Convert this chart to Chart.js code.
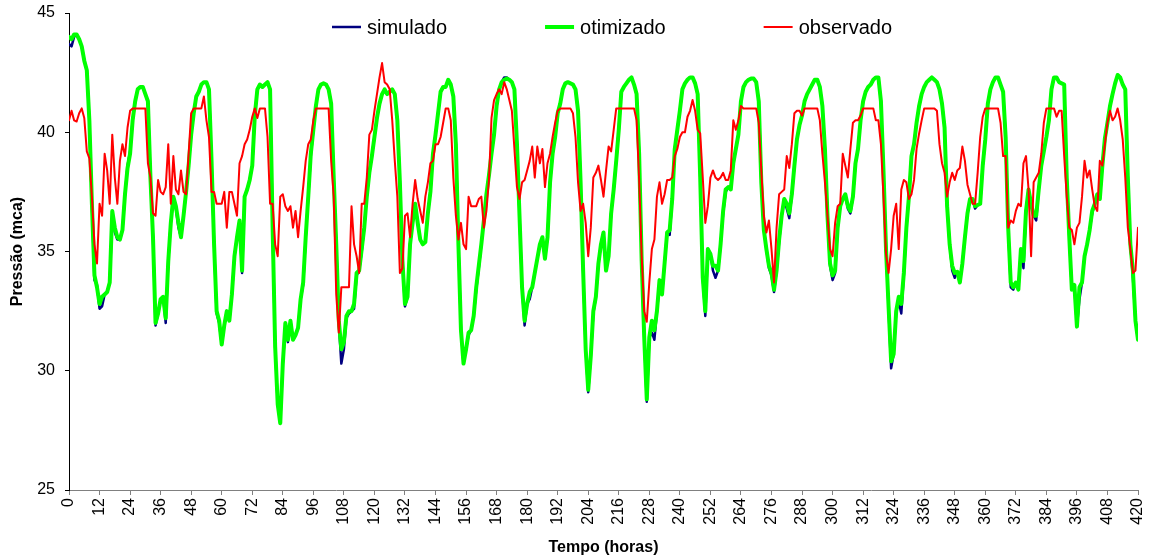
<!DOCTYPE html>
<html>
<head>
<meta charset="utf-8">
<script src="https://cdn.jsdelivr.net/npm/chart.js@4.4.1/dist/chart.umd.min.js"></script>
<style>
  html, body { margin: 0; padding: 0; background: #fff; }
  #wrap { width: 1151px; height: 560px; }
</style>
</head>
<body>
<div id="wrap"><canvas id="pressureChart" width="1151" height="560"></canvas></div>
<script>
// Pressão ao longo do tempo (valores horários, 0..420 h)
const seriesNames = ['simulado', 'otimizado', 'observado'];
const hours = Array.from({ length: 421 }, (_, i) => i);

const simulado = [
  43.7, 43.6, 44.0, 44.1, 43.9, 43.6, 43.0, 42.6, 40.5, 37.0, 33.8, 33.6,
  32.6, 32.7, 33.2, 33.3, 33.7, 36.5, 35.8, 35.5, 35.5, 35.9, 37.4, 38.6,
  39.2, 40.5, 41.3, 41.8, 41.9, 41.9, 41.6, 41.3, 38.1, 35.6, 31.9, 32.4,
  33.0, 33.1, 32.0, 34.6, 36.2, 37.3, 36.8, 36.0, 35.6, 36.5, 37.5, 38.6,
  39.9, 40.8, 41.5, 41.7, 42.0, 42.1, 42.1, 41.8, 38.8, 35.3, 32.4, 32.0,
  31.1, 31.9, 32.5, 32.1, 33.2, 34.8, 35.6, 36.3, 34.1, 37.3, 37.6, 38.0,
  38.6, 40.7, 41.8, 42.0, 41.9, 42.0, 42.1, 41.8, 36.0, 31.0, 28.6, 27.8,
  30.3, 31.8, 31.2, 32.1, 31.3, 31.5, 31.8, 33.0, 33.6, 35.6, 37.3, 39.0,
  40.1, 41.1, 41.8, 42.0, 42.05, 42.0, 41.8, 41.2, 38.1, 35.3, 32.0, 30.3,
  30.9, 32.2, 32.4, 32.5, 32.6, 34.0, 34.2, 35.0, 36.0, 37.3, 38.3, 39.0,
  39.8, 40.6, 41.2, 41.6, 41.8, 41.6, 41.7, 41.8, 41.6, 40.5, 37.9, 34.6,
  32.7, 33.1, 35.3, 36.2, 37.0, 36.2, 35.5, 35.3, 35.4, 36.6, 37.5, 39.1,
  39.9, 40.8, 41.7, 41.9, 41.9, 42.2, 42.0, 41.5, 39.5, 35.3, 31.7, 30.3,
  30.9, 31.5, 31.7, 32.3, 33.4, 34.3, 35.3, 36.3, 37.4, 38.2, 39.1, 39.9,
  41.1, 41.8, 42.1, 42.3, 42.3, 42.2, 42.1, 41.8, 39.5, 36.5, 33.5, 31.9,
  32.8, 33.0, 33.5, 34.1, 34.7, 35.3, 35.6, 34.7, 35.6, 37.9, 39.1, 39.8,
  40.8, 41.2, 41.8, 42.05, 42.1, 42.05, 42.0, 41.8, 40.9, 37.9, 34.2, 30.9,
  29.1, 30.6, 32.4, 33.1, 34.5, 35.3, 35.8, 34.2, 34.8, 36.6, 37.6, 38.8,
  40.1, 41.7, 41.9, 42.05, 42.2, 42.3, 42.0, 41.6, 39.1, 34.6, 31.4, 28.7,
  31.4, 31.6, 31.3, 32.5, 33.6, 33.2, 34.5, 35.8, 35.7, 37.2, 39.3, 40.1,
  40.9, 41.8, 42.05, 42.2, 42.3, 42.3, 42.05, 41.6, 38.1, 33.9, 32.3, 35.1,
  34.9, 34.2, 33.9, 34.2, 35.3, 36.6, 37.5, 37.7, 37.6, 38.7, 39.3, 39.9,
  41.3, 41.9, 42.1, 42.2, 42.25, 42.25, 42.1, 41.3, 37.9, 35.9, 35.1, 34.3,
  34.0, 33.3, 34.2, 35.4, 36.5, 37.2, 36.8, 36.4, 37.4, 38.6, 39.7, 40.3,
  40.7, 41.3, 41.6, 41.8, 42.0, 42.2, 42.2, 41.9, 41.1, 39.3, 36.5, 34.4,
  33.8, 34.1, 36.0, 36.9, 37.2, 37.4, 36.8, 36.6, 37.3, 38.7, 39.3, 40.5,
  41.3, 41.7, 41.9, 42.0, 42.2, 42.3, 42.3, 41.3, 38.4, 35.1, 32.6, 30.1,
  30.7, 32.5, 32.9, 32.4, 34.0, 36.0, 37.3, 39.0, 39.5, 40.4, 41.1, 41.6,
  41.9, 42.1, 42.2, 42.3, 42.2, 42.1, 41.8, 41.2, 40.2, 36.9, 35.3, 34.2,
  33.9, 34.15, 33.7, 34.5, 35.6, 36.6, 37.2, 37.2, 36.8, 36.95, 37.0, 38.6,
  39.7, 41.2, 41.8, 42.1, 42.3, 42.3, 42.0, 41.7, 39.8, 36.0, 33.5, 33.4,
  33.7, 33.4, 35.1, 34.3, 36.7, 37.6, 37.0, 36.5, 36.3, 37.6, 38.6, 39.2,
  39.8, 40.5, 41.8, 42.3, 42.3, 42.1, 42.05, 42.0, 38.1, 35.6, 33.4, 33.6,
  31.85, 33.0, 33.7, 34.8, 35.3, 35.9, 36.6, 37.0, 37.4, 37.2, 38.6, 39.75,
  40.4, 41.1, 41.6, 42.05, 42.4, 42.3, 42.0, 41.8, 38.1, 35.3, 33.9, 32.1,
  31.3
];

const otimizado = [
  44.0, 43.9, 44.1, 44.1, 43.9, 43.6, 43.0, 42.6, 40.5, 37.0, 34.0, 33.5,
  32.8, 33.1, 33.2, 33.3, 33.7, 36.7, 36.0, 35.6, 35.5, 35.9, 37.4, 38.5,
  39.1, 40.5, 41.3, 41.8, 41.9, 41.9, 41.6, 41.3, 38.1, 35.6, 32.0, 32.4,
  33.0, 33.1, 32.2, 34.6, 36.2, 37.3, 36.9, 36.2, 35.6, 36.5, 37.5, 38.6,
  39.9, 40.8, 41.5, 41.7, 42.0, 42.1, 42.1, 41.8, 38.8, 35.3, 32.5, 32.1,
  31.1, 31.9, 32.5, 32.1, 33.2, 34.8, 35.6, 36.3, 34.2, 37.3, 37.6, 38.0,
  38.6, 40.7, 41.8, 42.0, 41.9, 42.0, 42.1, 41.8, 36.0, 31.0, 28.6, 27.8,
  30.3, 32.0, 31.3, 32.1, 31.3, 31.5, 31.8, 33.0, 33.7, 35.6, 37.3, 39.1,
  40.1, 41.1, 41.8, 42.0, 42.05, 42.0, 41.8, 41.2, 38.1, 35.3, 32.1, 30.9,
  31.2, 32.3, 32.5, 32.5, 32.8, 34.1, 34.2, 35.1, 36.0, 37.3, 38.3, 39.0,
  39.8, 40.6, 41.2, 41.6, 41.8, 41.6, 41.7, 41.8, 41.6, 40.5, 37.9, 34.6,
  32.8, 33.1, 35.3, 36.2, 37.0, 36.2, 35.5, 35.3, 35.4, 36.6, 37.5, 39.1,
  39.9, 40.8, 41.7, 41.9, 41.9, 42.2, 42.0, 41.5, 39.5, 35.3, 31.7, 30.3,
  30.9, 31.6, 31.7, 32.3, 33.5, 34.4, 35.3, 36.3, 37.4, 38.2, 39.1, 39.9,
  41.1, 41.8, 42.1, 42.2, 42.25, 42.2, 42.1, 41.8, 39.5, 36.5, 33.5, 32.1,
  32.8, 33.3, 33.5, 34.1, 34.7, 35.3, 35.6, 34.7, 35.6, 37.9, 39.1, 39.8,
  40.8, 41.2, 41.8, 42.05, 42.1, 42.05, 42.0, 41.8, 40.9, 37.9, 34.2, 30.9,
  29.2, 30.6, 32.5, 33.1, 34.5, 35.3, 35.8, 34.2, 34.8, 36.6, 37.6, 38.8,
  40.1, 41.7, 41.9, 42.05, 42.2, 42.3, 42.0, 41.6, 39.1, 34.6, 31.4, 28.8,
  31.4, 32.1, 31.7, 32.5, 33.8, 33.2, 34.5, 35.8, 35.9, 37.2, 39.3, 40.1,
  40.9, 41.8, 42.05, 42.2, 42.3, 42.3, 42.05, 41.6, 38.1, 33.9, 32.5, 35.1,
  34.9, 34.4, 34.4, 34.2, 35.3, 36.7, 37.6, 37.7, 37.6, 38.7, 39.3, 39.9,
  41.3, 41.9, 42.1, 42.2, 42.25, 42.25, 42.1, 41.3, 37.9, 35.9, 35.1, 34.4,
  34.1, 33.4, 34.2, 35.5, 36.5, 37.2, 37.0, 36.6, 37.4, 38.6, 39.7, 40.3,
  40.7, 41.3, 41.6, 41.8, 42.0, 42.2, 42.2, 41.9, 41.1, 39.3, 36.5, 34.5,
  34.0, 34.2, 36.0, 36.9, 37.2, 37.4, 36.9, 36.7, 37.3, 38.7, 39.3, 40.5,
  41.3, 41.7, 41.9, 42.0, 42.2, 42.3, 42.3, 41.3, 38.4, 35.1, 32.7, 30.4,
  30.7, 32.5, 33.1, 32.8, 34.1, 36.0, 37.3, 39.0, 39.5, 40.4, 41.1, 41.6,
  41.9, 42.1, 42.2, 42.3, 42.2, 42.1, 41.8, 41.2, 40.2, 36.9, 35.3, 34.4,
  34.1, 34.15, 33.7, 34.5, 35.6, 36.6, 37.2, 37.2, 36.9, 36.95, 37.0, 38.6,
  39.7, 41.2, 41.8, 42.1, 42.3, 42.3, 42.0, 41.7, 39.8, 36.0, 33.7, 33.5,
  33.7, 33.4, 35.1, 34.6, 36.7, 37.6, 37.0, 36.5, 36.5, 37.6, 38.6, 39.2,
  39.8, 40.5, 41.8, 42.3, 42.3, 42.1, 42.05, 42.0, 38.1, 35.6, 33.4, 33.6,
  31.85, 33.5, 33.7, 34.8, 35.3, 35.9, 36.7, 37.0, 37.4, 37.2, 38.6, 39.75,
  40.4, 41.1, 41.6, 42.05, 42.4, 42.3, 42.0, 41.8, 38.1, 35.3, 34.2, 32.1,
  31.3
];

const observado = [
  40.5, 40.9, 40.5, 40.45, 40.8, 41.0, 40.6, 39.2, 38.9, 37.3, 35.3, 34.5,
  37.0, 36.5, 39.1, 38.4, 37.0, 39.9, 38.1, 37.0, 38.8, 39.5, 39.0, 40.2,
  40.9, 41.0, 41.0, 41.0, 41.0, 41.0, 41.0, 38.7, 38.1, 36.6, 36.5, 38.0,
  37.5, 37.4, 37.7, 39.5, 37.0, 39.0, 37.6, 37.4, 38.4, 37.5, 37.4, 39.1,
  40.8, 41.0, 41.0, 41.0, 41.0, 41.5, 40.5, 39.8, 37.5, 37.5, 37.0, 37.0,
  37.0, 37.5, 36.0, 37.5, 37.5, 37.0, 36.5, 38.7, 39.0, 39.5, 39.7, 40.1,
  40.65, 41.0, 40.6, 41.0, 41.0, 41.0, 39.8, 37.0, 37.0, 35.3, 34.8, 37.3,
  37.4, 36.9, 36.7, 36.9, 36.0, 36.7, 35.6, 36.7, 37.7, 38.8, 39.5, 39.7,
  40.5, 41.0, 41.0, 41.0, 41.0, 41.0, 41.0, 38.8, 37.3, 33.2, 31.6, 33.5,
  33.5, 33.5, 33.5, 36.9, 35.3, 34.8, 34.1, 37.0, 37.0, 38.1, 39.9, 40.1,
  40.9, 41.6, 42.3, 42.9, 42.1, 42.0, 41.8, 40.5, 38.8, 37.3, 34.1, 34.3,
  36.5, 36.6, 35.6, 37.0, 38.0, 37.2, 36.7, 36.2, 37.3, 37.9, 38.7, 38.8,
  39.5, 39.5, 39.8, 40.4, 41.0, 41.0, 40.5, 38.1, 36.5, 35.5, 36.2, 35.3,
  35.1, 37.3, 36.9, 36.9, 36.9, 37.2, 37.3, 36.0, 36.7, 38.0, 40.6, 41.35,
  41.6, 41.8, 41.6, 42.1, 41.8, 41.35, 40.9, 39.3, 37.7, 37.2, 37.9, 38.0,
  38.4, 38.8, 39.4, 38.1, 39.4, 38.7, 39.3, 37.7, 38.7, 39.1, 39.8, 40.4,
  40.9, 41.0, 41.0, 41.0, 41.0, 41.0, 40.8, 39.8, 37.9, 36.7, 37.0, 36.2,
  34.8, 36.0, 38.1, 38.3, 38.6, 38.0, 37.3, 38.4, 39.4, 39.2, 40.1, 41.0,
  41.0, 41.0, 41.0, 41.0, 41.0, 41.0, 41.0, 40.5, 38.0, 34.8, 32.5, 32.05,
  33.7, 35.1, 35.5, 37.3, 37.9, 37.0, 37.4, 38.0, 38.0, 38.1, 39.0, 39.3,
  39.8, 40.0, 40.0, 40.65, 40.9, 41.35, 40.9, 40.1, 39.95, 38.1, 36.2, 36.9,
  38.1, 38.4, 38.1, 38.0, 38.1, 38.3, 38.0, 38.0, 38.4, 40.5, 40.1, 40.5,
  41.1, 41.0, 41.0, 41.0, 41.0, 41.0, 41.0, 40.4, 38.4, 36.5, 35.8, 36.3,
  35.1, 33.7, 36.0, 37.4, 37.5, 37.6, 39.0, 38.5, 39.5, 40.8, 40.9, 40.9,
  40.7, 41.0, 41.0, 41.0, 41.0, 41.0, 41.0, 40.5, 39.1, 37.9, 36.5, 35.1,
  34.8, 36.2, 36.9, 37.0, 39.1, 38.6, 38.1, 39.3, 40.4, 40.5, 40.5, 40.7,
  41.0, 41.0, 41.0, 41.0, 41.0, 40.5, 40.5, 39.5, 37.3, 34.9, 34.1, 35.1,
  36.5, 37.0, 35.1, 37.6, 38.0, 37.9, 37.2, 37.4, 38.0, 39.3, 39.95, 40.5,
  41.0, 41.0, 41.0, 41.0, 41.0, 40.9, 39.5, 38.7, 38.3, 37.3, 37.9, 38.3,
  38.0, 38.4, 38.5, 39.4, 38.8, 37.8, 37.4, 37.0, 37.0, 38.3, 39.8, 40.65,
  41.0, 41.0, 41.0, 41.0, 41.0, 41.0, 40.4, 39.0, 39.0, 36.0, 36.3, 36.2,
  36.7, 37.0, 36.9, 38.7, 39.0, 37.6, 34.8, 37.9, 38.1, 38.3, 39.1, 40.4,
  41.0, 41.0, 41.0, 41.0, 40.65, 40.9, 40.9, 39.0, 37.3, 36.0, 35.9, 35.3,
  36.0, 36.2, 37.3, 38.8, 38.1, 38.4, 37.6, 36.9, 36.7, 38.8, 38.6, 39.5,
  40.4, 40.9, 40.5, 40.65, 41.0, 40.5, 39.7, 38.1, 36.0, 35.1, 34.1, 34.2,
  36.0
];

const FONT = "Arial, 'Liberation Sans', sans-serif";

function toPoints(values) {
  return hours.map((h, i) => ({ x: h, y: values[i] }));
}

// legenda desenhada dentro da área do gráfico, no topo
const legendInside = {
  id: 'legendInside',
  afterDraw(chart) {
    const ctx = chart.ctx;
    ctx.save();
    ctx.font = '20px ' + FONT;
    ctx.textBaseline = 'middle';
    ctx.textAlign = 'left';
    let x = 332;
    const y = 27;
    chart.data.datasets.forEach(ds => {
      ctx.strokeStyle = ds.borderColor;
      ctx.lineWidth = ds.borderWidth;
      ctx.beginPath();
      ctx.moveTo(x, y);
      ctx.lineTo(x + 29, y);
      ctx.stroke();
      ctx.fillStyle = '#000';
      ctx.fillText(ds.label, x + 35, y + 1);
      x += 35 + ctx.measureText(ds.label).width + 98;
    });
    ctx.restore();
  }
};

new Chart(document.getElementById('pressureChart'), {
  type: 'line',
  data: {
    datasets: [
      { label: seriesNames[0], data: toPoints(simulado), borderColor: '#000080', borderWidth: 2.5, order: 3 },
      { label: seriesNames[1], data: toPoints(otimizado), borderColor: '#00ff00', borderWidth: 4, order: 2 },
      { label: seriesNames[2], data: toPoints(observado), borderColor: '#ff0000', borderWidth: 2, order: 1 }
    ]
  },
  options: {
    responsive: false,
    devicePixelRatio: 1,
    animation: false,
    elements: {
      point: { radius: 0 },
      line: { tension: 0, borderJoinStyle: 'round', borderCapStyle: 'round' }
    },
    layout: { padding: { left: 0, right: 13, top: 13, bottom: 0 } },
    plugins: {
      legend: { display: false },
      tooltip: { enabled: false }
    },
    scales: {
      x: {
        type: 'linear',
        min: 0,
        max: 420,
        afterFit: s => { s.height = 70; s.paddingLeft = 0; s.paddingRight = 0; },
        border: { display: true, color: '#808080', width: 1 },
        grid: { drawOnChartArea: false, drawTicks: true, tickLength: 5, color: '#808080' },
        ticks: {
          stepSize: 12,
          autoSkip: false,
          minRotation: 90,
          maxRotation: 90,
          padding: 3,
          color: '#000',
          font: { family: FONT, size: 16 }
        },
        title: {
          display: true,
          text: 'Tempo (horas)',
          color: '#000',
          font: { family: FONT, size: 16, weight: 'bold' },
          padding: { top: 0, bottom: 3 }
        }
      },
      y: {
        min: 25,
        max: 45,
        afterFit: s => { s.width = 69; s.paddingTop = 0; s.paddingBottom = 0; },
        border: { display: true, color: '#000', width: 1 },
        grid: { drawOnChartArea: false, drawTicks: true, tickLength: 4, color: '#000' },
        ticks: {
          stepSize: 5,
          padding: 10,
          color: '#000',
          font: { family: FONT, size: 16 }
        },
        title: {
          display: true,
          text: 'Pressão (mca)',
          color: '#000',
          font: { family: FONT, size: 16, weight: 'bold' },
          padding: { top: 8, bottom: 0 }
        }
      }
    }
  },
  plugins: [legendInside]
});
</script>
</body>
</html>
